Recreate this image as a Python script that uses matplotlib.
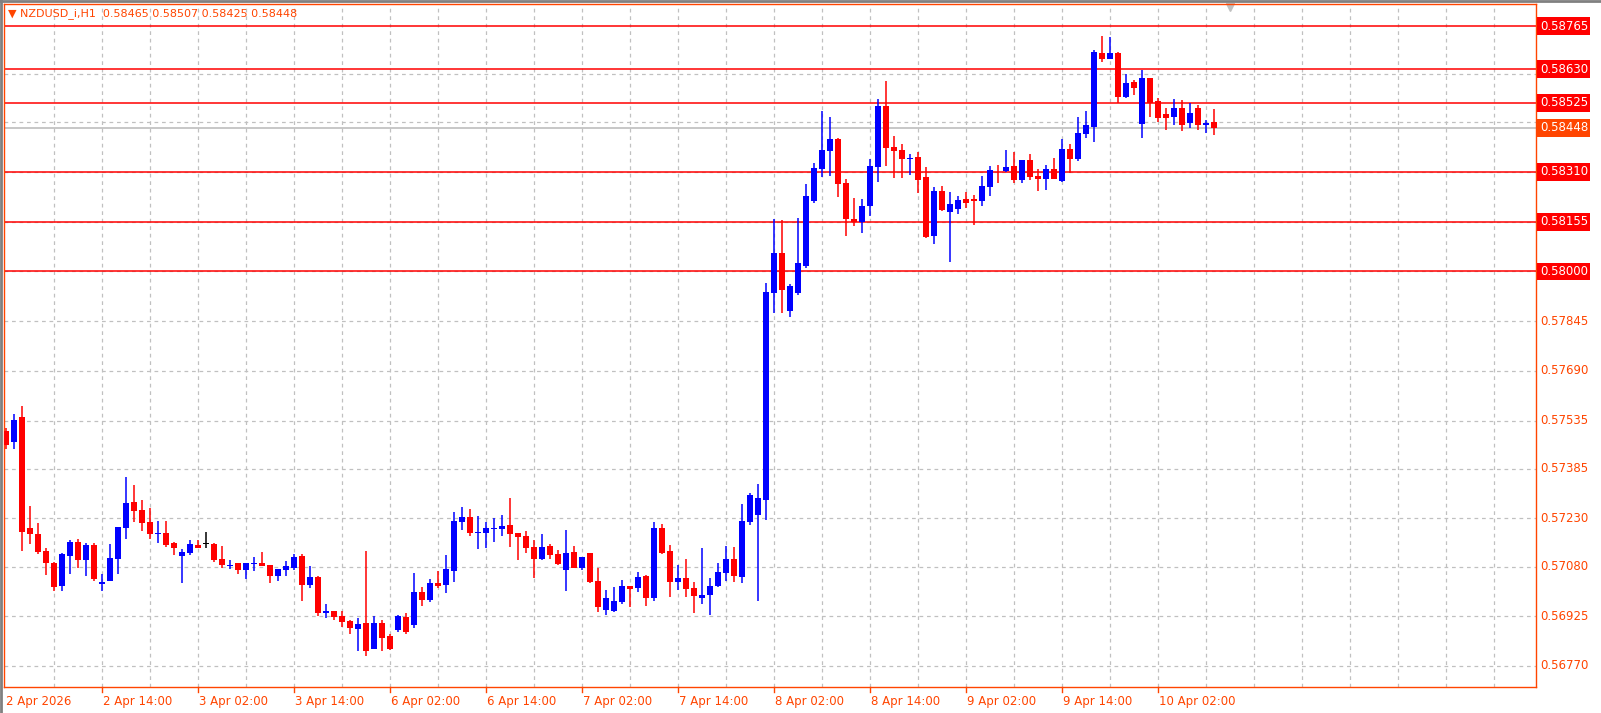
import numpy as np
import matplotlib
matplotlib.use("Agg")
import matplotlib.pyplot as plt
from matplotlib.transforms import blended_transform_factory

# OHLC in 1e-5 price units (NZDUSD H1)
open_pts = [57503,57468,57545,57199,57183,57129,57090,57020,57113,57157,57100,57148,57027,57036,57103,57199,57281,57256,57218,57180,57186,57154,57113,57122,57148,57151,57151,57103,57081,57090,57068,57087,57090,57084,57052,57068,57074,
    57113,57021,57046,56936,56942,56926,56910,56885,56904,56824,56904,56863,56882,56923,56898,57002,56977,57028,57021,
    57067,57220,57233,57185,57185,57198,57198,57210,57185,57176,57140,57105,57144,57118,
    57070,57124,57076,57121,57035,56943,56940,56969,57019,57013,57051,56981,57201,57127,57032,57044,57013,56981,56991,57019,57060,57102,
    57048,57220,57242,57287,
    57934,58058,57877,57934,58016,58220,
    58319,58374,58412,58277,58162,58153,58204,58325,58517,58389,58377,58351,58357,58293,58111,58252,58185,58195,58227,58227,58220,58262,58313,58313,58329,58284,58348,58297,58287,58319,
    58281,58383,58351,58428,
    58450,58680,58661,58680,58543,58591,58460,58603,58530,58492,58482,58508,58463,58509,58456,58465]
high_pts = [57513,57554,57581,57269,57215,57138,57094,57122,57164,57167,57154,57154,57058,57151,57202,57358,57333,57288,57262,57221,57221,57157,57135,57164,57164,57189,57154,57145,57100,57090,57090,57109,57125,57084,57071,57097,57119,
    57120,57081,57049,56964,56942,56942,56913,56920,57129,56926,56913,56869,56929,56936,57059,57015,57040,57065,57117,
    57249,57265,57258,57239,57220,57230,57242,57293,57185,57191,57163,57182,57150,57131,
    57194,57143,57111,57121,57076,57006,57016,57038,57019,57063,57054,57220,57213,57147,57086,57105,57032,57137,57044,57092,57143,57140,
    57274,57309,57338,57963,
    58163,58160,57962,58166,58271,58337,
    58501,58482,58415,58287,58230,58227,58351,58539,58593,58421,58396,58367,58373,58325,58262,58265,58249,58236,58249,58239,58297,58329,58332,58377,58373,58348,58367,58319,58332,58354,
    58412,58396,58482,58501,
    58689,58734,58731,58683,58616,58597,58629,58603,58540,58508,58537,58533,58524,58519,58472,58507]
low_pts = [57446,57446,57128,57151,57119,57055,57004,57004,57058,57077,57049,57036,57004,57034,57058,57167,57218,57192,57167,57154,57141,57116,57030,57116,57138,57138,57094,57074,57071,57058,57042,57065,57081,57030,57036,57049,57068,
    56974,57012,56926,56920,56913,56891,56869,56818,56802,56824,56818,56821,56875,56869,56888,56958,56971,57012,56996,
    57032,57195,57176,57134,57137,57156,57176,57140,57099,57121,57044,57099,57105,57086,
    57003,57076,57070,57029,56937,56930,56937,56962,56953,57000,56956,56972,57118,56984,57006,56984,56934,56962,56930,57016,57035,57032,
    57029,57210,56972,57225,
    57871,57871,57858,57925,58010,58214,
    58294,58297,58233,58111,58143,58121,58172,58278,58329,58290,58290,58300,58243,58105,58086,58188,58029,58179,58198,58144,58204,58236,58275,58310,58275,58275,58284,58252,58255,58287,
    58278,58307,58345,58415,
    58403,58654,58661,58524,58540,58549,58416,58482,58466,58441,58457,58438,58447,58440,58431,58425]
close_pts = [57459,57538,57188,57180,57125,57090,57017,57119,57157,57100,57148,57042,57033,57106,57202,57278,57253,57215,57180,57186,57148,57138,57125,57151,57138,57151,57100,57084,57084,57068,57090,57090,57081,57052,57071,57081,57109,
    57024,57046,56936,56942,56923,56907,56888,56901,56818,56904,56856,56824,56926,56875,57002,56977,57028,57018,57072,
    57223,57233,57185,57188,57201,57201,57207,57182,57172,57137,57105,57140,57115,57089,
    57121,57076,57111,57032,56953,56981,56972,57019,57010,57047,56981,57201,57121,57032,57044,57010,56988,56991,57019,57063,57105,57051,
    57223,57303,57293,57936,
    58058,57941,57956,58027,58236,58322,
    58377,58412,58271,58162,58153,58204,58329,58517,58386,58374,58351,58354,58284,58108,58252,58191,58210,58223,58214,58220,58265,58316,58312,58325,58284,58348,58294,58287,58319,58287,
    58383,58351,58431,58456,
    58683,58661,58680,58543,58587,58572,58603,58524,58479,58479,58508,58457,58495,58456,58462,58448]

time_labels = ["2 Apr 2026", "2 Apr 14:00", "3 Apr 02:00", "3 Apr 14:00", "6 Apr 02:00", "6 Apr 14:00",
               "7 Apr 02:00", "7 Apr 14:00", "8 Apr 02:00", "8 Apr 14:00", "9 Apr 02:00", "9 Apr 14:00", "10 Apr 02:00"]
price_ticks = [0.56770, 0.56925, 0.57080, 0.57230, 0.57385, 0.57535, 0.57690, 0.57845, 0.58000, 0.58155, 0.58310, 0.58465, 0.58615]
level_lines = [0.58765, 0.58630, 0.58525, 0.58310, 0.58155, 0.58000]
current_price = 0.58448
header = "NZDUSD_i,H1  0.58465 0.58507 0.58425 0.58448"

O = np.array(open_pts) / 1e5
H = np.array(high_pts) / 1e5
L = np.array(low_pts) / 1e5
C = np.array(close_pts) / 1e5
n = len(O)
x = np.arange(n)

W, Hpx = 1601, 713
fig = plt.figure(figsize=(W / 100, Hpx / 100), dpi=100)
fig.patch.set_facecolor("white")
left, right, top, bottom = 4, 1536, 4, 687
ax = fig.add_axes([left / W, (Hpx - bottom) / Hpx, (right - left) / W, (bottom - top) / Hpx])
ORANGE = "#FF4500"
for s in ax.spines.values():
    s.set_color(ORANGE)
    s.set_linewidth(1)
ax.set_xlim(-0.25, 191.25)
ax.set_ylim(0.567045, 0.588336)
ax.set_xticks([])
ax.set_yticks([])

# grid
for gx in range(6, 192, 6):
    ax.axvline(gx, color="#c0c0c0", lw=0.9, ls=(0, (3, 3)), zorder=0)
for gy in price_ticks:
    ax.axhline(gy, color="#c0c0c0", lw=0.9, ls=(0, (3, 3)), zorder=0)

# candles
colors = np.where(C > O, "#0000FF", np.where(C < O, "#FF0000", "#000000"))
ax.vlines(x, L, H, colors=colors, lw=1.1, zorder=3)
bot = np.minimum(O, C)
hgt = np.maximum(np.abs(C - O), 0.000012)
ax.bar(x, hgt, bottom=bot, width=0.65, color=colors, linewidth=0, zorder=4)

# level lines
for lv in level_lines:
    ax.axhline(lv, color="#FF0000", lw=1.1, zorder=2)
ax.axhline(current_price, color="#b8b8b8", lw=1.1, zorder=2)

trans = blended_transform_factory(ax.transAxes, ax.transData)
boxed = set(round(v, 5) for v in level_lines) | {0.58465, 0.58615}
for t in price_ticks:
    if round(t, 5) in boxed:
        continue
    ax.text(1.0025, t, f"{t:.5f}", transform=trans, color=ORANGE, fontsize=8.5,
            va="center", ha="left", clip_on=False)
for lv in level_lines:
    ax.text(1.0025, lv, f"{lv:.5f}", transform=trans, color="white", fontsize=8.5,
            va="center", ha="left", clip_on=False,
            bbox=dict(boxstyle="square,pad=0.2", fc="#FF0000", ec="none"))
ax.text(1.0025, current_price, f"{current_price:.5f}", transform=trans, color="white", fontsize=8.5,
        va="center", ha="left", clip_on=False,
        bbox=dict(boxstyle="square,pad=0.2", fc=ORANGE, ec="none"))

# time labels
transx = blended_transform_factory(ax.transData, ax.transAxes)
for k, lab in enumerate(time_labels):
    bx = 12 * k
    if k > 0:
        ax.plot([bx, bx], [0, -0.008], color=ORANGE, lw=1, transform=transx, clip_on=False)
    ax.text(bx + (0.0 if k == 0 else 0.15), -0.012, lab, transform=transx, color=ORANGE,
            fontsize=8.5, va="top", ha="left", clip_on=False)

# header
fig.text(8 / W, 1 - 14 / Hpx, "\u25BC " + header, color=ORANGE, fontsize=8, va="center", ha="left")
# shift marker
ax.plot([153], [1.0 - 0.005], marker="v", color="#c0c0c0", ms=6, transform=transx, clip_on=False)

# window borders
fig.add_artist(plt.Line2D([1 / W, 1 / W], [0, 1], color="#808080", lw=2))
fig.add_artist(plt.Line2D([0, 1], [1 - 1 / Hpx, 1 - 1 / Hpx], color="#808080", lw=2))

fig.savefig("out.png", dpi=100)
